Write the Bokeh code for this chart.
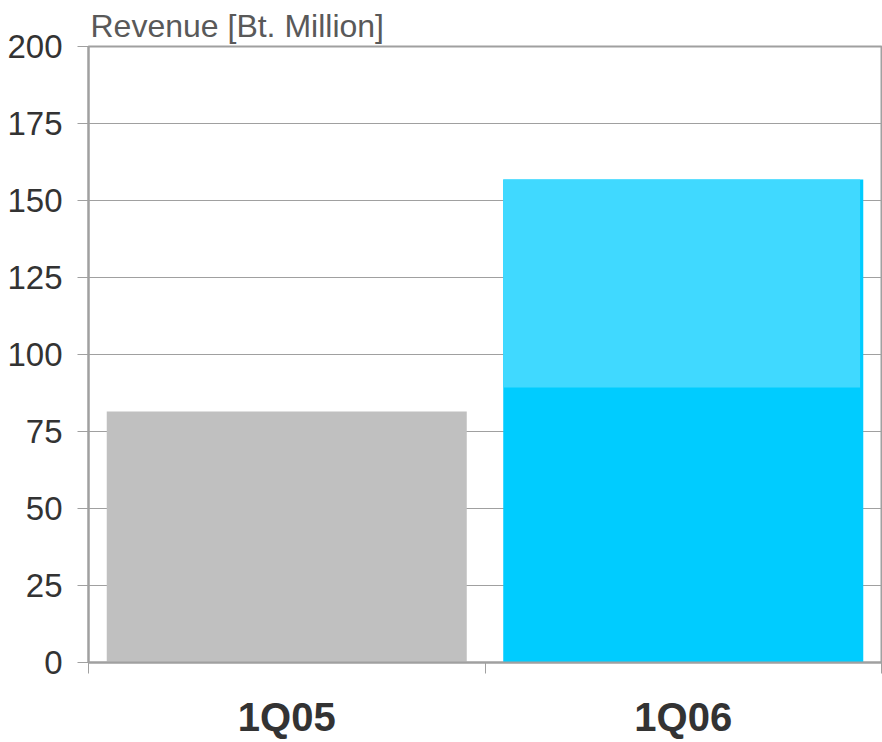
from bokeh.plotting import figure
from bokeh.models import Range1d, FixedTicker
from bokeh.embed import file_html
from bokeh.resources import INLINE

# ---- data ----
categories = ["1Q05", "1Q06"]
base_values = [81.5, 89.3]
extra_values = [0.0, 67.5]
base_colors = ["#c0c0c0", "#00ccff"]
extra_color = "#40d9ff"
y_ticks = [0, 25, 50, 75, 100, 125, 150, 175, 200]
y_title = "Revenue [Bt. Million]"

FONT = "Liberation Sans"
GRID = "#a0a0a0"
BAR_W = 0.908

x_centers = [i + 0.5 for i in range(len(categories))]
x_bounds = [float(i) for i in range(len(categories) + 1)]
totals = [b + e for b, e in zip(base_values, extra_values)]

p = figure(width=882, height=742,
           x_range=Range1d(0, len(categories)), y_range=Range1d(0, y_ticks[-1]),
           output_backend="svg", toolbar_location=None,
           min_border_left=88, min_border_right=1, min_border_top=46, min_border_bottom=80)
p.background_fill_color = "white"
p.border_fill_color = "white"
p.outline_line_color = GRID
p.outline_line_width = 2
p.outline_line_alpha = 1.0

# title
p.title.text = y_title
p.title.align = "left"
p.title.offset = 2
p.title.standoff = 6
p.title.text_font = FONT
p.title.text_font_size = "32px"
p.title.text_font_style = "normal"
p.title.text_color = "#595959"

# bars
p.vbar(x=x_centers, top=totals, width=BAR_W, fill_color=base_colors, line_color=None)
ov_left, ov_right, ov_bottom, ov_top = [], [], [], []
for c, b, t, e in zip(x_centers, base_values, totals, extra_values):
    if e > 0:
        ov_left.append(c - BAR_W / 2)
        ov_right.append(c + BAR_W / 2 - 0.008)
        ov_bottom.append(b)
        ov_top.append(t)
p.quad(left=ov_left, right=ov_right, bottom=ov_bottom, top=ov_top,
       fill_color=extra_color, line_color=None)

# grid
p.xgrid.visible = False
p.ygrid.ticker = FixedTicker(ticks=y_ticks)
p.ygrid.grid_line_color = GRID
p.ygrid.grid_line_width = 1

# y axis
ya = p.yaxis[0]
ya.ticker = FixedTicker(ticks=y_ticks)
ya.axis_line_color = GRID
ya.axis_line_width = 2
ya.major_tick_line_color = GRID
ya.major_tick_line_width = 1
ya.major_tick_out = 11
ya.major_tick_in = 0
ya.minor_tick_line_color = None
ya.major_label_text_font = FONT
ya.major_label_text_font_size = "33px"
ya.major_label_text_color = "#333333"
ya.major_label_standoff = 15

# x axis
xa = p.xaxis[0]
xa.ticker = FixedTicker(ticks=x_centers, minor_ticks=x_bounds)
xa.major_label_overrides = {c: cat for c, cat in zip(x_centers, categories)}
xa.axis_line_color = GRID
xa.axis_line_width = 2
xa.major_tick_line_color = None
xa.major_tick_out = 0
xa.major_tick_in = 0
xa.minor_tick_line_color = GRID
xa.minor_tick_line_width = 1
xa.minor_tick_out = 11
xa.minor_tick_in = 0
xa.major_label_text_font = FONT
xa.major_label_text_font_size = "40px"
xa.major_label_text_font_style = "bold"
xa.major_label_text_color = "#333333"
xa.major_label_standoff = 21

open("out.html", "w").write(file_html(p, INLINE))
